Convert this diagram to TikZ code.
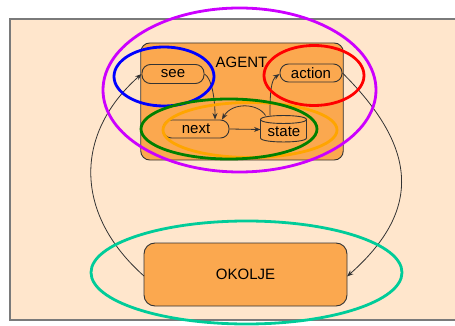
\documentclass[tikz,border=0pt]{standalone}
\usepackage{fontspec}
\setmainfont{Liberation Sans}
\usetikzlibrary{arrows.meta}
\definecolor{peach}{HTML}{FFE6CC}
\definecolor{boxorange}{HTML}{FBA84F}
\definecolor{edge}{HTML}{333333}
\definecolor{frame}{HTML}{7A7A7A}
\definecolor{cpurple}{HTML}{CC00FF}
\definecolor{cblue}{HTML}{0000FF}
\definecolor{cred}{HTML}{FF0000}
\definecolor{cgreen}{HTML}{008000}
\definecolor{corange}{HTML}{FFA500}
\definecolor{cteal}{HTML}{00CC99}
\tikzset{
  txt/.style={font=\fontsize{15}{18}\selectfont, text=black},
  pill/.style={txt, draw=edge, line width=0.9pt, fill=boxorange, rounded corners=8.5pt, inner sep=0pt},
  plain/.style={inner sep=0pt, outer sep=0pt},
  conn/.style={draw=edge, line width=0.8pt, -{Stealth[length=6.5pt,width=5pt]}},
  ring/.style={line width=2.8pt},
}
\begin{document}
\begin{tikzpicture}[x=1pt,y=-1pt]
\useasboundingbox (0,0) rectangle (455,326);

% environment frame
\draw[frame, line width=1.5pt, fill=peach] (10,19) rectangle (470,320);

% agent box and its parts
\node[plain, draw=edge, line width=0.9pt, fill=boxorange, rounded corners=9pt,
      minimum width=202.5pt, minimum height=117pt] (agent) at (242,101.5) {};
\node[txt, plain] (agentlbl) at (241.5,62) {AGENT};
\node[pill, minimum width=62pt, minimum height=19pt] (see) at (173,74) {see};
\node[pill, minimum width=62pt, minimum height=18pt] (action) at (311,73) {action};
\node[pill, minimum width=66pt, minimum height=18pt] (next) at (196,129) {next};

% state store drawn as a cylinder
\node[plain, minimum width=46pt, minimum height=27pt] (state) at (283.5,129) {};
\filldraw[draw=edge, line width=0.9pt, fill=boxorange]
  (260.5,119.5) -- (260.5,138) .. controls (260.5,143.3) and (306.5,143.3) .. (306.5,138)
  -- (306.5,119.5) .. controls (306.5,114.2) and (260.5,114.2) .. (260.5,119.5) -- cycle;
\draw[edge, line width=0.9pt] (260.5,119.5) .. controls (260.5,124.8) and (306.5,124.8) .. (306.5,119.5);
\node[txt, plain] (statelbl) at (284,132) {state};

% environment box
\node[plain, draw=edge, line width=0.9pt, fill=boxorange, rounded corners=11pt,
      minimum width=203pt, minimum height=63pt] (okolje) at (245.5,274.5) {};
\node[txt, plain] (okoljelbl) at (245.5,274) {OKOLJE};

% connectors
\draw[conn] (see.east) .. controls (212,78) and (215,100) .. ([xshift=19pt]next.north);
\draw[conn] (next.east) -- ([yshift=-0.5pt]state.west);
\draw[conn] ([xshift=-18pt]state.north) .. controls (258,103) and (232,102) .. ([xshift=26pt]next.north);
\draw[conn] ([xshift=-13.5pt]state.north) .. controls (270,92) and (271,80) .. ([yshift=-1pt]action.west);
\draw[conn] (action.east) .. controls (420,150) and (420,212) .. ([yshift=-2pt]okolje.east);
\draw[conn] ([yshift=-1.5pt]okolje.west) .. controls (75,215) and (73,135) .. (see.west);

% highlight ellipses
\draw[ring, cpurple] (239.5,90) ellipse (136.5 and 82);
\draw[ring, cblue] (164,76.5) ellipse (50 and 29.5);
\draw[ring, cred] (314,75.5) ellipse (50 and 30);
\draw[ring, corange] (250,130) ellipse (87 and 27.5);
\draw[ring, cgreen] (229,129) ellipse (88 and 30);
\draw[ring, cteal] (246.5,272.5) ellipse (155.5 and 51.5);
\end{tikzpicture}
\end{document}
